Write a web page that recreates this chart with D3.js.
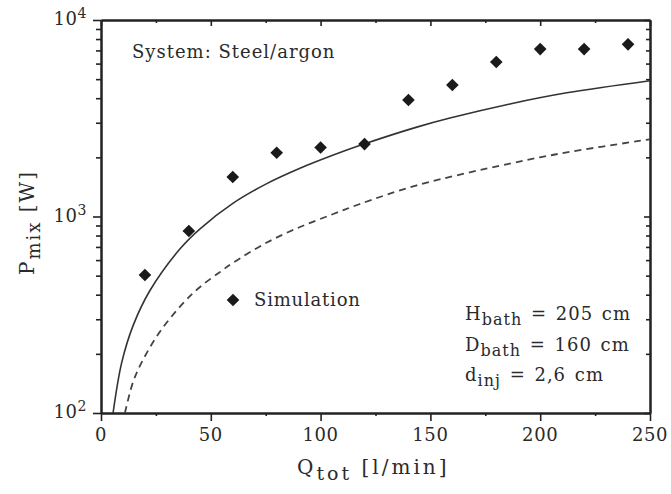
<!DOCTYPE html>
<html><head><meta charset="utf-8">
<script src="https://cdn.jsdelivr.net/npm/d3@7"></script>
<style>
body{margin:0;background:#fff;}
text{font-family:"DejaVu Serif","Liberation Serif",serif;fill:#2a2a2a;}
</style>
</head><body>
<script>
// ---- data ----
const simQ = [20, 40, 60, 80, 100, 120, 140, 160, 180, 200, 220, 240];
const simP = [504, 844, 1589, 2110, 2245, 2337, 3917, 4668, 6110, 7110, 7110, 7520];

const solidQ = [5.5, 9.4, 14.7, 22.3, 36, 45.1, 60.2, 75.5, 90.6, 105.8, 119.4, 143.8, 158.9, 186.2, 212.1, 250];
const solidP = [100, 180, 280, 420, 685, 866, 1170, 1470, 1760, 2055, 2330, 2850, 3170, 3740, 4260, 4909];

const dashQ = [10.9, 14.7, 19.3, 26.9, 37.3, 45.1, 54.2, 60.2, 75.5, 90.6, 105.8, 117.9, 143.8, 186.2, 212.1, 250];
const dashP = [100, 145, 188, 260, 361, 438, 522, 582, 737, 884, 1030, 1158, 1440, 1860, 2120, 2471];

const xMajor = [0, 50, 100, 150, 200, 250];
const xMinor = [25, 75, 125, 175, 225];
const yMajor = [100, 1000, 10000];
const yMajorExp = ["2", "3", "4"];
const yMinor = [200, 300, 400, 500, 600, 700, 800, 900, 2000, 3000, 4000, 5000, 6000, 7000, 8000, 9000];

const W = 671, H = 494;
const L = 101, R = 650, T = 20, B = 413;

const svg = d3.select("body").append("svg").attr("width", W).attr("height", H);
const x = d3.scaleLinear().domain([0, 250]).range([L, R]);
const y = d3.scaleLog().domain([100, 10000]).range([B, T]);

const ink = "#222";

function styleAxis(g, sw) {
  g.select(".domain").attr("stroke", ink).attr("stroke-width", 2);
  g.selectAll(".tick line").attr("stroke", ink).attr("stroke-width", sw || 1.6);
  g.selectAll(".tick text").remove();
}

// bottom axis (outward ticks)
svg.append("g").attr("transform", `translate(0,${B})`)
  .call(d3.axisBottom(x).tickValues(xMajor).tickSize(8).tickSizeOuter(0)).call(styleAxis);
svg.append("g").attr("transform", `translate(0,${B})`)
  .call(d3.axisBottom(x).tickValues(xMinor).tickSize(3).tickSizeOuter(0)).call(styleAxis);
// top axis (inward ticks)
svg.append("g").attr("transform", `translate(0,${T})`)
  .call(d3.axisBottom(x).tickValues(xMajor).tickSize(6).tickSizeOuter(0)).call(styleAxis);
svg.append("g").attr("transform", `translate(0,${T})`)
  .call(d3.axisBottom(x).tickValues(xMinor).tickSize(3).tickSizeOuter(0)).call(styleAxis);
// left axis (outward)
svg.append("g").attr("transform", `translate(${L},0)`)
  .call(d3.axisLeft(y).tickValues(yMajor).tickSize(8).tickSizeOuter(0)).call(styleAxis);
svg.append("g").attr("transform", `translate(${L},0)`)
  .call(d3.axisLeft(y).tickValues(yMinor).tickSize(5).tickSizeOuter(0)).call(styleAxis);
// right axis (inward)
svg.append("g").attr("transform", `translate(${R},0)`)
  .call(d3.axisLeft(y).tickValues(yMajor).tickSize(6).tickSizeOuter(0)).call(styleAxis);
svg.append("g").attr("transform", `translate(${R},0)`)
  .call(d3.axisLeft(y).tickValues(yMinor).tickSize(4).tickSizeOuter(0)).call(styleAxis);

// x tick labels
svg.append("g").selectAll("text").data(xMajor).join("text")
  .attr("x", d => x(d)).attr("y", B + 28).attr("text-anchor", "middle")
  .attr("font-size", 18).attr("letter-spacing", 0.6).text(d => d);

// y tick labels 10^n
const yl = svg.append("g").selectAll("text").data(yMajor).join("text")
  .attr("x", L - 14).attr("y", d => y(d) + 5).attr("text-anchor", "end")
  .attr("font-size", 18).attr("letter-spacing", 0.6);
yl.append("tspan").text("10");
yl.append("tspan").attr("dy", -7).attr("font-size", 14).text((d, i) => yMajorExp[i]);

// curves
const line = d3.line().x(d => x(d[0])).y(d => y(d[1])).curve(d3.curveCatmullRom.alpha(0.5));
svg.append("path").datum(solidQ.map((q, i) => [q, solidP[i]]))
  .attr("d", line).attr("fill", "none").attr("stroke", "#333").attr("stroke-width", 1.6);
svg.append("path").datum(dashQ.map((q, i) => [q, dashP[i]]))
  .attr("d", line).attr("fill", "none").attr("stroke", "#444").attr("stroke-width", 1.8)
  .attr("stroke-dasharray", "7,5");

// simulation points
const diamond = d3.symbol().type(d3.symbolSquare).size(80);
svg.append("g").selectAll("path").data(simQ.map((q, i) => [q, simP[i]])).join("path")
  .attr("d", diamond)
  .attr("transform", d => `translate(${x(d[0])},${y(d[1])}) rotate(45)`)
  .attr("fill", "#1a1a1a");

// legend
svg.append("path").attr("d", diamond).attr("transform", "translate(233,300) rotate(45)").attr("fill", "#1a1a1a");
svg.append("text").attr("x", 254).attr("y", 306).attr("font-size", 18).attr("letter-spacing", 0.8).text("Simulation");

// system label
svg.append("text").attr("x", 132).attr("y", 58).attr("font-size", 18).attr("letter-spacing", 1).text("System: Steel/argon");

// parameters
const params = [["H", "bath", " = 205 cm", 320], ["D", "bath", " = 160 cm", 351], ["d", "inj", " = 2,6 cm", 381]];
params.forEach(p => {
  const t = svg.append("text").attr("x", 465).attr("y", p[3]).attr("font-size", 18)
    .attr("letter-spacing", 1).attr("word-spacing", 2);
  t.append("tspan").text(p[0]);
  t.append("tspan").attr("dy", 5).attr("font-size", 16).text(p[1]);
  t.append("tspan").attr("dy", -5).text(p[2]);
});

// axis titles
const xt = svg.append("text").attr("x", 297).attr("y", 474).attr("font-size", 20).attr("letter-spacing", 3);
xt.append("tspan").text("Q");
xt.append("tspan").attr("dy", 6).attr("font-size", 19).text("tot");
xt.append("tspan").attr("dy", -6).text(" [l/min]");

const ytl = svg.append("text").attr("transform", "translate(34,275) rotate(-90)").attr("font-size", 20).attr("letter-spacing", 2);
ytl.append("tspan").text("P");
ytl.append("tspan").attr("dy", 6).attr("font-size", 18).text("mix");
ytl.append("tspan").attr("dy", -6).text(" [W]");
</script>
</body></html>
